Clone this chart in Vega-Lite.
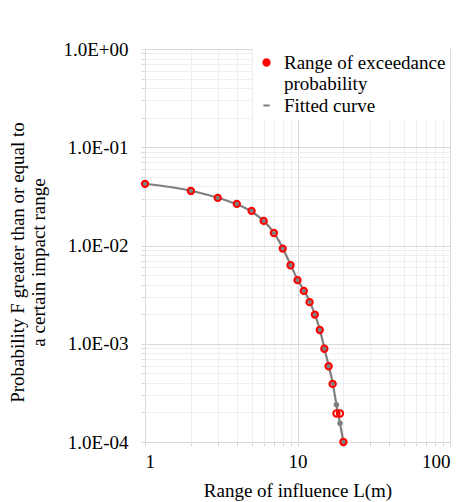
{
  "$schema": "https://vega.github.io/schema/vega-lite/v6.json",
  "width": 305,
  "height": 393,
  "padding": {"left": 8, "top": 40, "right": 7, "bottom": 2},
  "background": "white",
  "config": {
    "view": {"stroke": null},
    "font": "Liberation Serif",
    "axis": {
      "labelFont": "Liberation Serif",
      "titleFont": "Liberation Serif",
      "labelFontSize": 19,
      "titleFontSize": 19,
      "labelColor": "#000000",
      "titleColor": "#000000",
      "titleFontWeight": "normal",
      "domainColor": "#d9d9d9",
      "tickColor": "#d9d9d9",
      "tickSize": 4
    },
    "legend": {
      "labelFont": "Liberation Serif"
    }
  },
  "datasets": {
    "observed": [
      {"L": 1, "F": 0.0424, "series": "Range of exceedance probability"},
      {"L": 2, "F": 0.0359, "series": "Range of exceedance probability"},
      {"L": 3, "F": 0.0305, "series": "Range of exceedance probability"},
      {"L": 4, "F": 0.0265, "series": "Range of exceedance probability"},
      {"L": 5, "F": 0.0225, "series": "Range of exceedance probability"},
      {"L": 6, "F": 0.0178, "series": "Range of exceedance probability"},
      {"L": 7, "F": 0.0134, "series": "Range of exceedance probability"},
      {"L": 8, "F": 0.0093, "series": "Range of exceedance probability"},
      {"L": 9, "F": 0.0063, "series": "Range of exceedance probability"},
      {"L": 10, "F": 0.00444, "series": "Range of exceedance probability"},
      {"L": 11, "F": 0.00345, "series": "Range of exceedance probability"},
      {"L": 12, "F": 0.00265, "series": "Range of exceedance probability"},
      {"L": 13, "F": 0.00198, "series": "Range of exceedance probability"},
      {"L": 14, "F": 0.00138, "series": "Range of exceedance probability"},
      {"L": 15, "F": 0.00089, "series": "Range of exceedance probability"},
      {"L": 16, "F": 0.00059, "series": "Range of exceedance probability"},
      {"L": 17, "F": 0.00039, "series": "Range of exceedance probability"},
      {"L": 18, "F": 0.000195, "series": "Range of exceedance probability"},
      {"L": 19, "F": 0.000195, "series": "Range of exceedance probability"},
      {"L": 20, "F": 0.0001, "series": "Range of exceedance probability"}
    ],
    "fitted": [
      {"L": 1, "F": 0.0425, "series": "Fitted curve"},
      {"L": 2, "F": 0.0361, "series": "Fitted curve"},
      {"L": 3, "F": 0.0307, "series": "Fitted curve"},
      {"L": 4, "F": 0.0263, "series": "Fitted curve"},
      {"L": 5, "F": 0.0222, "series": "Fitted curve"},
      {"L": 6, "F": 0.0178, "series": "Fitted curve"},
      {"L": 7, "F": 0.0135, "series": "Fitted curve"},
      {"L": 8, "F": 0.0094, "series": "Fitted curve"},
      {"L": 9, "F": 0.0064, "series": "Fitted curve"},
      {"L": 10, "F": 0.0045, "series": "Fitted curve"},
      {"L": 11, "F": 0.0035, "series": "Fitted curve"},
      {"L": 12, "F": 0.0027, "series": "Fitted curve"},
      {"L": 13, "F": 0.00199, "series": "Fitted curve"},
      {"L": 14, "F": 0.0014, "series": "Fitted curve"},
      {"L": 15, "F": 0.0009, "series": "Fitted curve"},
      {"L": 16, "F": 0.0006, "series": "Fitted curve"},
      {"L": 17, "F": 0.0004, "series": "Fitted curve"},
      {"L": 18, "F": 0.00024, "series": "Fitted curve"},
      {"L": 19, "F": 0.000155, "series": "Fitted curve"},
      {"L": 20, "F": 0.0001, "series": "Fitted curve"}
    ]
  },
  "encoding": {
    "x": {
      "field": "L",
      "type": "quantitative",
      "scale": {"type": "log", "domain": [1, 100], "nice": false},
      "axis": {
        "title": "Range of influence L(m)",
        "values": [1, 2, 3, 4, 5, 6, 7, 8, 9, 10, 20, 30, 40, 50, 60, 70, 80, 90, 100],
        "labelExpr": "(datum.value == 1 || datum.value == 10 || datum.value == 100) ? datum.label : ''",
        "grid": true,
        "gridColor": {"condition": {"test": "datum.value == 1 || datum.value == 10 || datum.value == 100", "value": "#d9d9d9"}, "value": "#efefef"},
        "gridWidth": 1,
        "labelPadding": 6,
        "titlePadding": 10
      }
    },
    "y": {
      "field": "F",
      "type": "quantitative",
      "scale": {"type": "log", "domain": [0.0001, 1], "nice": false},
      "axis": {
        "title": ["Probability F greater than or equal to", "a certain impact range"],
        "values": [0.0001, 0.0002, 0.0003, 0.0004, 0.0005, 0.0006, 0.0007, 0.0008, 0.0009, 0.001, 0.002, 0.003, 0.004, 0.005, 0.006, 0.007, 0.008, 0.009, 0.01, 0.02, 0.03, 0.04, 0.05, 0.06, 0.07, 0.08, 0.09, 0.1, 0.2, 0.3, 0.4, 0.5, 0.6, 0.7, 0.8, 0.9, 1],
        "labelExpr": "datum.value == 1 ? '1.0E+00' : datum.value == 0.1 ? '1.0E-01' : datum.value == 0.01 ? '1.0E-02' : datum.value == 0.001 ? '1.0E-03' : datum.value == 0.0001 ? '1.0E-04' : ''",
        "grid": true,
        "gridColor": {"condition": {"test": "datum.value == 1 || datum.value == 0.1 || datum.value == 0.01 || datum.value == 0.001 || datum.value == 0.0001", "value": "#d9d9d9"}, "value": "#efefef"},
        "gridWidth": 1,
        "labelPadding": 13,
        "titlePadding": 14,
        "titleY": 213,
        "labelOverlap": false
      }
    },
    "color": {
      "field": "series",
      "type": "nominal",
      "scale": {"domain": ["Range of exceedance probability", "Fitted curve"], "range": ["#ff0000", "#7f7f7f"]},
      "legend": {
        "title": null,
        "orient": "top-right",
        "offset": 0,
        "fillColor": "white",
        "padding": 4,
        "labelFont": "Liberation Serif",
        "labelFontSize": 19,
        "labelColor": "#000000",
        "labelLimit": 300,
        "symbolSize": 40,
        "symbolStrokeWidth": 2,
        "labelOffset": 8,
        "rowPadding": 2,
        "labelExpr": "datum.label == 'Range of exceedance probability' ? ['Range of exceedance', 'probability'] : datum.label",
        "encode": {"symbols": {"update": {"fill": {"value": "white"}, "size": {"condition": {"test": "datum.value == 'Fitted curve'", "value": 200}, "value": 40}}}}
      }
    },
    "shape": {
      "field": "series",
      "type": "nominal",
      "scale": {"domain": ["Range of exceedance probability", "Fitted curve"], "range": ["circle", "stroke"]},
      "legend": {
        "title": null,
        "orient": "top-right",
        "offset": 0,
        "fillColor": "white",
        "padding": 4,
        "labelFont": "Liberation Serif",
        "labelFontSize": 19,
        "labelColor": "#000000",
        "labelLimit": 300,
        "symbolSize": 40,
        "symbolStrokeWidth": 2,
        "labelOffset": 8,
        "rowPadding": 2,
        "labelExpr": "datum.label == 'Range of exceedance probability' ? ['Range of exceedance', 'probability'] : datum.label",
        "encode": {"symbols": {"update": {"fill": {"value": "white"}, "size": {"condition": {"test": "datum.value == 'Fitted curve'", "value": 200}, "value": 40}}}}
      }
    }
  },
  "layer": [
    {
      "data": {"name": "fitted"},
      "mark": {"type": "line", "strokeWidth": 2.2, "interpolate": "monotone"},
      "encoding": {"shape": {"value": null}}
    },
    {
      "data": {"name": "observed"},
      "mark": {"type": "point", "filled": false, "fill": "transparent", "strokeWidth": 2, "size": 40, "opacity": 1}
    }
  ]
}
